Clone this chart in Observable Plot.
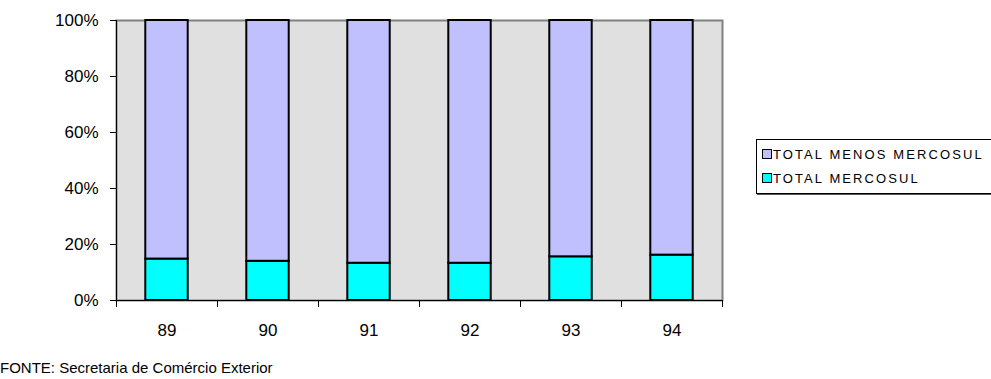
<!DOCTYPE html>
<html>
<head>
<meta charset="utf-8">
<script src="https://cdn.jsdelivr.net/npm/d3@7"></script>
<script src="https://cdn.jsdelivr.net/npm/@observablehq/plot@0.6"></script>
<style>
  html, body { margin: 0; padding: 0; background: #fff; }
  #wrap { position: relative; width: 991px; height: 379px; overflow: hidden; font-family: Arial, "Liberation Sans", sans-serif; }
  #legend {
    position: absolute; left: 756px; top: 139px; width: 300px; height: 55px;
    border: 1px solid #000; box-shadow: 1px 1px 0 #555; background: #fff; box-sizing: border-box;
  }
  .item { position: absolute; left: 5px; font-size: 13px; letter-spacing: 2.1px; color: #000; white-space: nowrap; line-height: 14px; }
  .sw { display: inline-block; width: 8px; height: 8px; border: 1px solid #000; margin-right: 1px; vertical-align: 0px; }
  #caption { position: absolute; left: 0; top: 359px; font-size: 15px; color: #000; }
</style>
</head>
<body>
<div id="wrap">
  <div id="chart"></div>
  <div id="legend"></div>
  <div id="caption"></div>
</div>
<script>
// Participação do Mercosul no total, por ano (%)
const years = [89, 90, 91, 92, 93, 94];
const yearLabels = ["89", "90", "91", "92", "93", "94"];
const totalMercosul = [14.8, 14.0, 13.3, 13.3, 15.6, 16.2];
const totalMenosMercosul = [85.2, 86.0, 86.7, 86.7, 84.4, 83.8];
const seriesNames = ["TOTAL MENOS MERCOSUL", "TOTAL MERCOSUL"];
const seriesColors = ["#c0c0ff", "#00ffff"];
const yTicks = [0, 20, 40, 60, 80, 100];
const source = "FONTE: Secretaria de Comércio Exterior";

const rows = years.map((yr, i) => ({
  year: yr,
  label: yearLabels[i],
  mercosul: totalMercosul[i],
  menos: totalMenosMercosul[i]
}));
const halfBar = 0.21;
const boundaries = [years[0] - 0.5, ...years.map(y => y + 0.5)];

const chart = Plot.plot({
  width: 991,
  height: 355,
  marginLeft: 116,
  marginRight: 269,
  marginTop: 20,
  marginBottom: 55,
  style: { fontFamily: "Arial, 'Liberation Sans', sans-serif", fontSize: "17px", color: "#000", background: "transparent" },
  x: { type: "linear", domain: [years[0] - 0.5, years[years.length - 1] + 0.5], label: null },
  y: { domain: [0, 100], label: null },
  marks: [
    Plot.frame({ fill: "#e0e0e0", stroke: "#808080", strokeWidth: 2 }),
    Plot.rect(rows, {
      x1: d => d.year - halfBar, x2: d => d.year + halfBar,
      y1: 0, y2: "mercosul",
      fill: seriesColors[1], stroke: "#000", strokeWidth: 2
    }),
    Plot.rect(rows, {
      x1: d => d.year - halfBar, x2: d => d.year + halfBar,
      y1: "mercosul", y2: d => d.mercosul + d.menos,
      fill: seriesColors[0], stroke: "#000", strokeWidth: 2
    }),
    Plot.ruleY([0], { stroke: "#000", strokeWidth: 1 }),
    Plot.ruleX([years[0] - 0.5], { stroke: "#000", strokeWidth: 1 }),
    Plot.axisY({ ticks: yTicks, tickFormat: d => d + "%", tickSize: 6, tickPadding: 12, fontSize: 17, label: null }),
    Plot.axisX({ ticks: boundaries, tickFormat: () => "", tickSize: 7, tickPadding: 0, label: null }),
    Plot.axisX({ ticks: years, tickFormat: (d, i) => yearLabels[i], tickSize: 0, tickPadding: 23, fontSize: 17, label: null })
  ]
});
document.getElementById("chart").appendChild(chart);

const legend = document.getElementById("legend");
seriesNames.forEach((name, i) => {
  const div = document.createElement("div");
  div.className = "item";
  div.style.top = (8 + i * 24) + "px";
  const sw = document.createElement("span");
  sw.className = "sw";
  sw.style.background = seriesColors[i];
  div.appendChild(sw);
  div.appendChild(document.createTextNode(name));
  legend.appendChild(div);
});
document.getElementById("caption").textContent = source;
</script>
</body>
</html>
